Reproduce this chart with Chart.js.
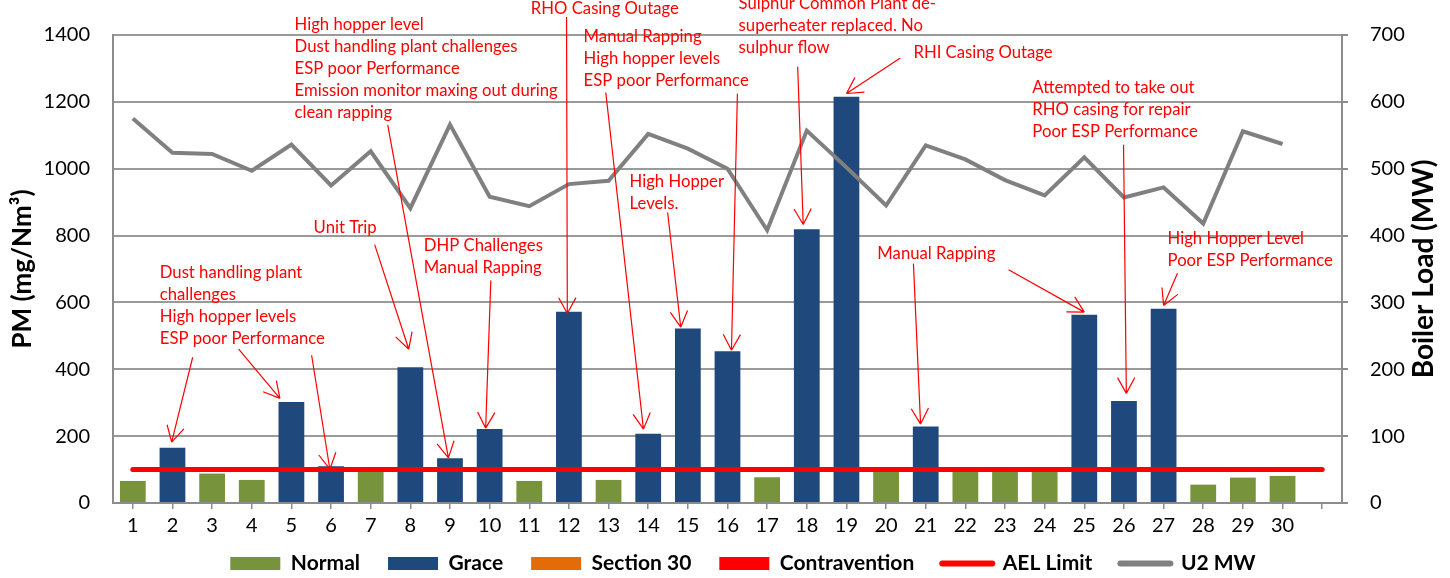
<!DOCTYPE html>
<html>
<head>
<meta charset="utf-8">
<script src="https://cdn.jsdelivr.net/npm/chart.js@4/dist/chart.umd.min.js"></script>
<style>
  html, body { margin: 0; padding: 0; background: #fff; }
  #wrap { width: 1450px; height: 578px; }
</style>
</head>
<body>
<div id="wrap"><canvas id="pmChart" width="1450" height="578"></canvas></div>
<script>
// days of the month (last slot is an empty category, as in the original sheet)
const days = ['1','2','3','4','5','6','7','8','9','10','11','12','13','14','15','16','17','18','19','20','21','22','23','24','25','26','27','28','29','30',''];
// daily PM (mg/Nm3)
const pmValues = [66,165,88,69,302,110,96,406,134,221,66,572,69,207,522,454,77,819,1215,93,229,97,96,95,563,305,581,55,76,81,null];
// N = Normal, G = Grace
const pmStatus = ['N','G','N','N','G','G','N','G','G','G','N','G','N','G','G','G','N','G','G','N','G','N','N','N','G','G','G','N','N','N',null];
// AEL limit (mg/Nm3)
const aelLimit = [100,100,100,100,100,100,100,100,100,100,100,100,100,100,100,100,100,100,100,100,100,100,100,100,100,100,100,100,100,100,100];
// unit 2 boiler load (MW)
const u2MW = [575,524,522,497,536,475,526,441,566,458,444,477,482,552,530,500,408,557,502,445,535,514,483,460,517,457,472,418,556,537,null];

const colNormal = '#77933C';
const colGrace = '#1F497D';
const colS30 = '#E36C09';
const colContra = '#FF0000';

const normalData = pmValues.map((v, i) => pmStatus[i] === 'N' ? v : null);
const graceData = pmValues.map((v, i) => pmStatus[i] === 'G' ? v : null);

// red call-outs: text block (x index, PM value) and arrows [tailX, tailY, tipX, tipY]
const notes = [
  { lines: ['Dust handling plant', 'challenges', 'High hopper levels', 'ESP poor Performance'], at: [0.68, 690],
    arrows: [[1.51, 436, 0.98, 182], [2.67, 460, 3.71, 313], [4.51, 442, 4.97, 101]] },
  { lines: ['Unit Trip'], at: [4.56, 824], arrows: [[6.10, 773, 6.96, 460]] },
  { lines: ['High hopper level', 'Dust handling plant challenges', 'ESP poor Performance', 'Emission monitor maxing out during', 'clean rapping'],
    at: [4.08, 1430], arrows: [[6.43, 1131, 7.96, 135]] },
  { lines: ['DHP Challenges', 'Manual Rapping'], at: [7.34, 770], arrows: [[9.03, 666, 8.90, 224]] },
  { lines: ['RHO Casing Outage'], at: [10.04, 1478], arrows: [[10.94, 1454, 10.96, 567]] },
  { lines: ['Manual Rapping', 'High hopper levels', 'ESP poor Performance'], at: [11.37, 1395],
    arrows: [[11.93, 1228, 12.88, 221], [15.25, 1224, 15.10, 457]] },
  { lines: ['High Hopper', 'Levels.'], at: [12.53, 961], arrows: [[13.49, 869, 13.82, 526]] },
  { lines: ['Sulphur Common Plant de-', 'superheater replaced. No', 'sulphur flow'], at: [15.28, 1493], arrows: [[16.77, 1305, 16.91, 833]] },
  { lines: ['RHI Casing Outage'], at: [19.69, 1347], arrows: [[19.36, 1331, 18.00, 1225]] },
  { lines: ['Manual Rapping'], at: [18.78, 746], arrows: [[19.69, 716, 19.87, 236], [22.09, 698, 24.00, 571]] },
  { lines: ['Attempted to take out', 'RHO casing for repair', 'Poor ESP Performance'], at: [22.69, 1243], arrows: [[24.99, 1072, 25.06, 328]] },
  { lines: ['High Hopper Level', 'Poor ESP Performance'], at: [26.10, 792], arrows: [[26.35, 687, 26.00, 591]] }
];

const calloutPlugin = {
  id: 'callouts',
  afterDatasetsDraw(chart) {
    const ctx = chart.ctx;
    const xs = chart.scales.x, ys = chart.scales.y;
    ctx.save();
    ctx.fillStyle = '#FF0000';
    ctx.strokeStyle = '#FF0000';
    ctx.lineWidth = 1.2;
    ctx.font = '16.7px Lato';
    ctx.textBaseline = 'middle';
    ctx.textAlign = 'left';
    notes.forEach(n => {
      const tx = xs.getPixelForValue(n.at[0]);
      const ty = ys.getPixelForValue(n.at[1]);
      n.lines.forEach((t, i) => ctx.fillText(t, tx, ty + i * 22));
      n.arrows.forEach(a => {
        const x1 = xs.getPixelForValue(a[0]), y1 = ys.getPixelForValue(a[1]);
        const x2 = xs.getPixelForValue(a[2]), y2 = ys.getPixelForValue(a[3]);
        const ang = Math.atan2(y1 - y2, x1 - x2);
        ctx.beginPath();
        ctx.moveTo(x1, y1);
        ctx.lineTo(x2, y2);
        [0.5, -0.5].forEach(d => {
          ctx.moveTo(x2, y2);
          ctx.lineTo(x2 + 18 * Math.cos(ang + d), y2 + 18 * Math.sin(ang + d));
        });
        ctx.stroke();
      });
    });
    ctx.restore();
  },
  afterDraw(chart) {
    // right axis title reads bottom-to-top like the left one
    const ctx = chart.ctx;
    const a = chart.chartArea;
    ctx.save();
    ctx.translate(1424, (a.top + a.bottom) / 2);
    ctx.rotate(-Math.PI / 2);
    ctx.font = 'bold 28px Lato';
    ctx.fillStyle = '#000';
    ctx.textAlign = 'center';
    ctx.textBaseline = 'middle';
    ctx.fillText('Boiler Load (MW)', 0, 0);
    ctx.restore();
  }
};

// nudge legend to sit where the original one is
const legendShift = {
  id: 'legendShift',
  afterLayout(chart) {
    const lg = chart.legend;
    lg.left += 18; lg.right += 18;
    lg.top -= 18;
  }
};

Chart.defaults.font.family = 'Lato';
Chart.defaults.color = '#000';

const legendItems = [
  { text: 'Normal', fillStyle: colNormal, strokeStyle: colNormal, lineWidth: 0, pointStyle: 'rect' },
  { text: 'Grace', fillStyle: colGrace, strokeStyle: colGrace, lineWidth: 0, pointStyle: 'rect' },
  { text: 'Section 30', fillStyle: colS30, strokeStyle: colS30, lineWidth: 0, pointStyle: 'rect' },
  { text: 'Contravention', fillStyle: colContra, strokeStyle: colContra, lineWidth: 0, pointStyle: 'rect' },
  { text: 'AEL Limit', fillStyle: '#FF0000', strokeStyle: '#FF0000', lineWidth: 6, pointStyle: 'line', lineCap: 'round' },
  { text: 'U2 MW', fillStyle: '#808080', strokeStyle: '#808080', lineWidth: 6, pointStyle: 'line', lineCap: 'round' }
];

new Chart(document.getElementById('pmChart'), {
  data: {
    labels: days,
    datasets: [
      { type: 'line', label: 'AEL Limit', data: aelLimit, yAxisID: 'y', borderColor: '#FF0000', borderWidth: 5,
        pointRadius: 0, borderCapStyle: 'round', order: 0 },
      { type: 'line', label: 'U2 MW', data: u2MW, yAxisID: 'y1', borderColor: '#808080', borderWidth: 4,
        pointRadius: 0, order: 1 },
      { type: 'bar', label: 'Normal', data: normalData, backgroundColor: colNormal, order: 2 },
      { type: 'bar', label: 'Grace', data: graceData, backgroundColor: colGrace, order: 2 },
      { type: 'bar', label: 'Section 30', data: [], backgroundColor: colS30, order: 2 },
      { type: 'bar', label: 'Contravention', data: [], backgroundColor: colContra, order: 2 }
    ]
  },
  options: {
    responsive: false,
    animation: false,
    layout: { padding: { top: 34, left: 0, right: 0, bottom: 0 } },
    datasets: {
      bar: { grouped: false, barPercentage: 0.65, categoryPercentage: 1 }
    },
    plugins: {
      tooltip: { enabled: false },
      legend: {
        position: 'bottom',
        maxHeight: 35,
        labels: {
          usePointStyle: true,
          pointStyleWidth: 50,
          boxHeight: 13,
          padding: 28,
          font: { size: 21, weight: 'bold' },
          generateLabels: () => legendItems.map((it, i) => Object.assign({ hidden: false, datasetIndex: i }, it))
        }
      }
    },
    scales: {
      x: {
        grid: { display: true, drawOnChartArea: false, drawTicks: true, tickLength: 6, offset: false, color: '#8c8c8c', lineWidth: 1.5 },
        border: { color: '#8c8c8c', width: 2 },
        ticks: { autoSkip: false, maxRotation: 0, padding: 5, font: { size: 20 } },
        afterFit: s => { s.height = 40; }
      },
      y: {
        position: 'left',
        min: 0, max: 1400,
        ticks: { stepSize: 200, padding: 23, font: { size: 20 }, callback: v => String(v) },
        grid: { color: '#9a9a9a', lineWidth: 2, drawTicks: false },
        border: { color: '#8c8c8c', width: 2 },
        title: { display: true, text: 'PM (mg/Nm³)', font: { size: 26, weight: 'bold' }, padding: { top: 7 } },
        afterFit: s => { s.width = 113; }
      },
      y1: {
        position: 'right',
        min: 0, max: 700,
        ticks: { stepSize: 100, padding: 22, font: { size: 20 }, callback: v => String(v) },
        grid: { drawOnChartArea: false, drawTicks: true, tickLength: 6, color: '#8c8c8c', lineWidth: 2 },
        border: { color: '#8c8c8c', width: 2 },
        afterFit: s => { s.width = 108; }
      }
    }
  },
  plugins: [calloutPlugin, legendShift]
});
</script>
</body>
</html>
